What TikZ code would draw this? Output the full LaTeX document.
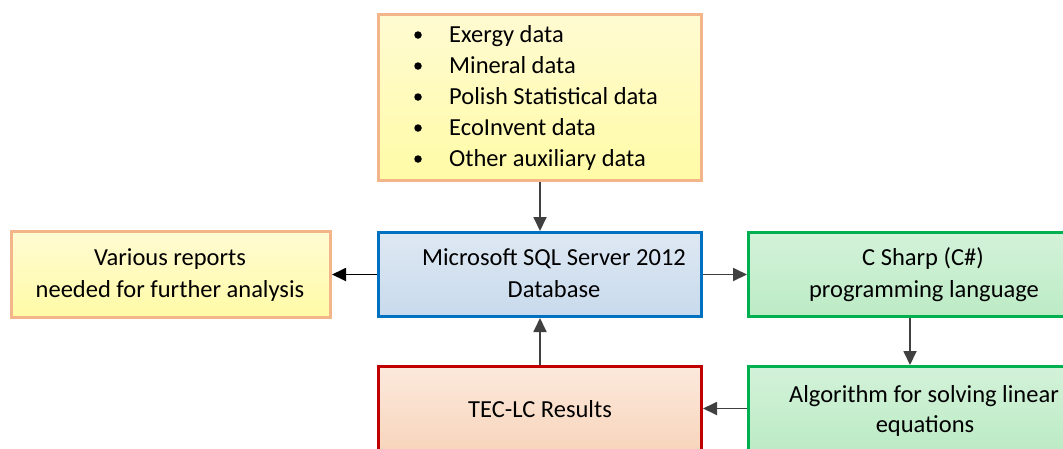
\documentclass[tikz,border=0pt]{standalone}
\usepackage{fontspec}
\setmainfont{Carlito}
\usetikzlibrary{arrows.meta}
\definecolor{peachB}{HTML}{F2B68A}
\definecolor{yelT}{HTML}{FFFBD2}
\definecolor{yelB}{HTML}{FFFBA6}
\definecolor{bluB}{HTML}{0070C0}
\definecolor{bluT}{HTML}{DEE8F3}
\definecolor{bluBot}{HTML}{C8DAEC}
\definecolor{grnB}{HTML}{00B050}
\definecolor{grnT}{HTML}{D3F2D9}
\definecolor{grnBot}{HTML}{BCEBC5}
\definecolor{redB}{HTML}{C00000}
\definecolor{redT}{HTML}{FBE9DC}
\definecolor{redBot}{HTML}{F8D5BC}
\definecolor{arr}{HTML}{404040}
\tikzset{
  box/.style={draw, line width=3pt, rectangle, inner sep=0pt},
  yelbox/.style={box, draw=peachB, top color=yelT, bottom color=yelB},
  blubox/.style={box, draw=bluB, top color=bluT, bottom color=bluBot},
  grnbox/.style={box, draw=grnB, top color=grnT, bottom color=grnBot},
  redbox/.style={box, draw=redB, top color=redT, bottom color=redBot},
  txt/.style={anchor=base, inner sep=0pt, font=\fontsize{24.5}{31}\selectfont},
  ltxt/.style={anchor=base west, inner sep=0pt, font=\fontsize{24.5}{31}\selectfont},
  bul/.style={circle, fill=black, inner sep=0pt, minimum size=7.5pt},
  conn/.style={draw=arr, line width=1.8pt, -{Triangle[length=14pt,width=13pt]}}
}
\begin{document}
\begin{tikzpicture}[x=1pt,y=-1pt]
\useasboundingbox (0,0) rectangle (1063,448);
\clip (0,0) rectangle (1063,448);
% boxes
\node[yelbox, minimum width=323pt, minimum height=166pt] (top) at (540,97.5) {};
\node[yelbox, minimum width=319pt, minimum height=86pt] (left) at (171,274.5) {};
\node[blubox, minimum width=323pt, minimum height=84pt] (db) at (540,274.5) {};
\node[grnbox, minimum width=323pt, minimum height=84pt] (cs) at (910,274.5) {};
\node[redbox, minimum width=323pt, minimum height=84pt] (res) at (540,408.5) {};
\node[grnbox, minimum width=323pt, minimum height=84pt] (alg) at (910,408.5) {};
% bullet list
\node[bul] (b1) at (418,35) {};
\node[bul] (b2) at (418,66) {};
\node[bul] (b3) at (418,97) {};
\node[bul] (b4) at (418,128) {};
\node[bul] (b5) at (418,159) {};
\node[ltxt] (t1) at (449,42) {Exergy data};
\node[ltxt] (t2) at (449,73) {Mineral data};
\node[ltxt] (t3) at (449,104) {Polish Statistical data};
\node[ltxt] (t4) at (449,135) {EcoInvent data};
\node[ltxt] (t5) at (449,166) {Other auxiliary data};
% texts
\node[txt] (l1) at (170,265) {Various reports};
\node[txt] (l2) at (170,297) {needed for further analysis};
\node[txt] (d1) at (554,265) {Microsoft SQL Server 2012};
\node[txt] (d2) at (554,297) {Database};
\node[txt] (c1) at (923,265) {C Sharp (C\#)};
\node[txt] (c2) at (924,297) {programming language};
\node[txt] (r1) at (540,417) {TEC-LC Results};
\node[txt] (a1) at (924,402) {Algorithm for solving linear};
\node[txt] (a2) at (925,432) {equations};
% connectors
\draw[conn] (top.south) -- (db.north);
\draw[conn, draw=black] (db.west) -- (left.east);
\draw[conn] (db.east) -- (cs.west);
\draw[conn] (cs.south) -- (alg.north);
\draw[conn] (alg.west) -- (res.east);
\draw[conn] (res.north) -- (db.south);
\end{tikzpicture}
\end{document}
